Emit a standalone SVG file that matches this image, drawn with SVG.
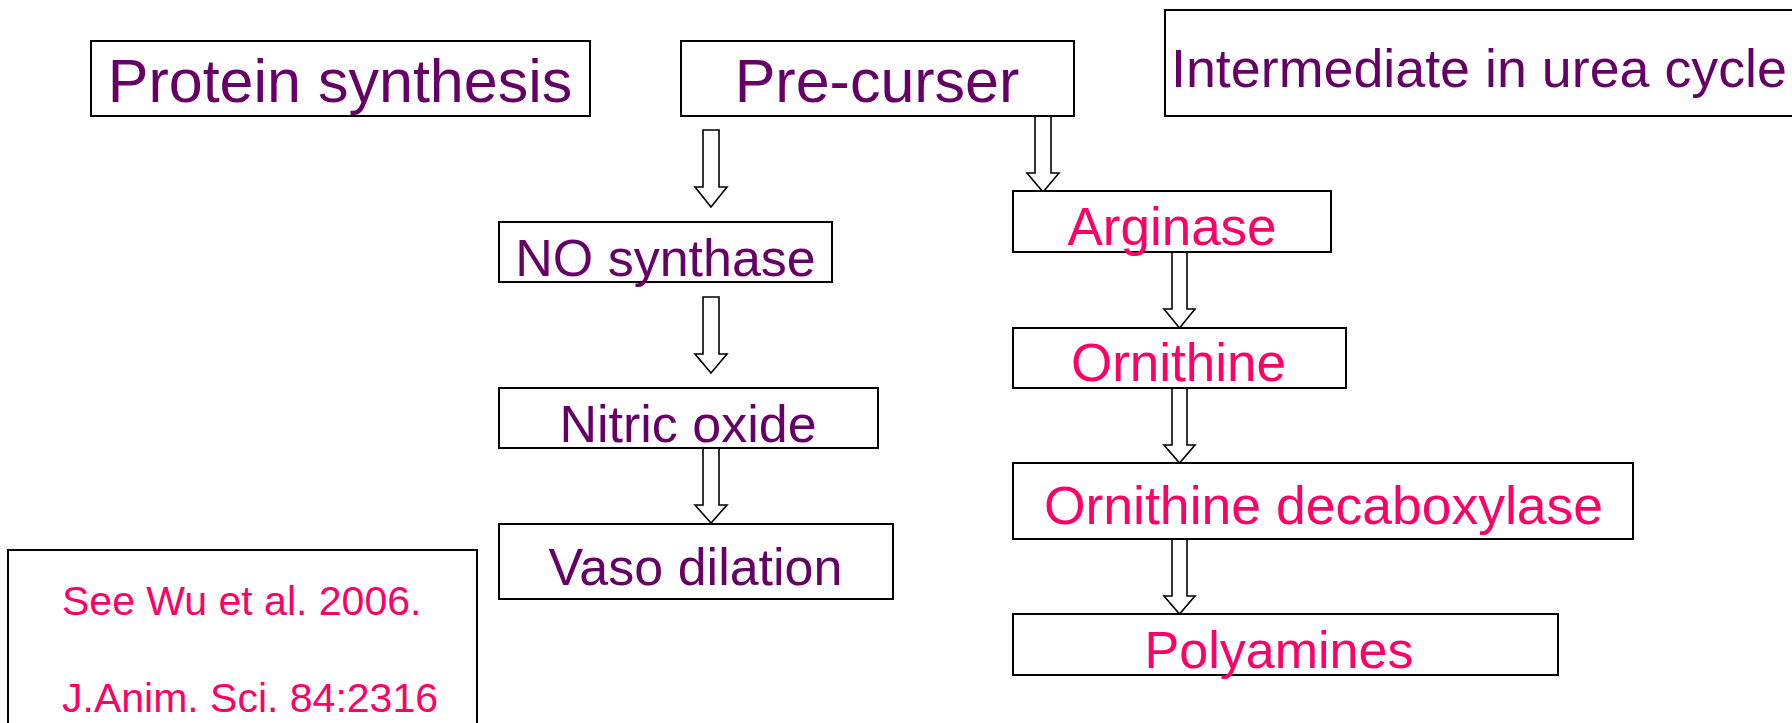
<svg xmlns="http://www.w3.org/2000/svg" width="1792" height="723" viewBox="0 0 1792 723">
  <style>
    .box { fill: #ffffff; stroke: #000000; stroke-width: 2; }
    .arrow { fill: #ffffff; stroke: #000000; stroke-width: 1.6; stroke-linejoin: miter; }
    text { font-family: "Liberation Sans", Arial, sans-serif; }
    .purple { fill: #660066; }
    .pink { fill: #ff0066; }
    .big { font-size: 61px; }
    .mid { font-size: 52px; }
    .small { font-size: 41px; }
  </style>
  <rect width="1792" height="723" fill="#ffffff"/>

  <!-- block arrows -->
  <g id="connectors">
    <!-- left chain -->
    <polygon class="arrow" points="703,130 719,130 719,187 727,187 711,207 695,187 703,187"/>
    <polygon class="arrow" points="703,297 719,297 719,354 727,354 711,373 695,354 703,354"/>
    <polygon class="arrow" points="703,448 719,448 719,505 727,505 711,523 695,505 703,505"/>
    <!-- right chain -->
    <polygon class="arrow" points="1035,116 1051,116 1051,173 1059,173 1043,192 1027,173 1035,173"/>
    <polygon class="arrow" points="1172,252 1187,252 1187,309 1195,309 1179.5,328 1164,309 1172,309"/>
    <polygon class="arrow" points="1172,388 1187,388 1187,445 1195,445 1179.5,463 1164,445 1172,445"/>
    <polygon class="arrow" points="1172,539 1187,539 1187,596 1195,596 1179.5,614 1164,596 1172,596"/>
  </g>

  <g id="protein-synthesis">
    <rect class="box" x="91" y="41" width="499" height="75"/>
    <text class="purple big" x="340" y="102" text-anchor="middle">Protein synthesis</text>
  </g>

  <g id="pre-curser">
    <rect class="box" x="681" y="41" width="393" height="75"/>
    <text class="purple big" x="877" y="102" text-anchor="middle">Pre-curser</text>
  </g>

  <g id="urea-cycle">
    <rect class="box" x="1165" y="10" width="640" height="106"/>
    <text class="purple" x="1479" y="87" text-anchor="middle" font-size="53.8">Intermediate in urea cycle</text>
  </g>

  <g id="no-synthase">
    <rect class="box" x="499" y="222" width="333" height="60"/>
    <text class="purple mid" x="665.5" y="276" text-anchor="middle">NO synthase</text>
  </g>

  <g id="nitric-oxide">
    <rect class="box" x="499" y="388" width="379" height="60"/>
    <text class="purple mid" x="688" y="442" text-anchor="middle">Nitric oxide</text>
  </g>

  <g id="vaso-dilation">
    <rect class="box" x="499" y="524" width="394" height="75"/>
    <text class="purple mid" x="695.5" y="585" text-anchor="middle">Vaso dilation</text>
  </g>

  <g id="arginase">
    <rect class="box" x="1013" y="191" width="318" height="61"/>
    <text class="pink" x="1172" y="245" text-anchor="middle" font-size="53">Arginase</text>
  </g>

  <g id="ornithine">
    <rect class="box" x="1013" y="328" width="333" height="60"/>
    <text class="pink" x="1178.5" y="381" text-anchor="middle" font-size="53">Ornithine</text>
  </g>

  <g id="ornithine-decarboxylase">
    <rect class="box" x="1013" y="463" width="620" height="76"/>
    <text class="pink" x="1323.5" y="524" text-anchor="middle" font-size="53.5">Ornithine decaboxylase</text>
  </g>

  <g id="polyamines">
    <rect class="box" x="1013" y="614" width="545" height="61"/>
    <text class="pink mid" x="1279" y="668" text-anchor="middle">Polyamines</text>
  </g>

  <g id="citation">
    <rect class="box" x="8" y="550" width="469" height="190"/>
    <text class="pink small" x="62" y="615">See Wu et al. 2006.</text>
    <text class="pink small" x="62" y="712">J.Anim. Sci. 84:2316</text>
  </g>
</svg>
